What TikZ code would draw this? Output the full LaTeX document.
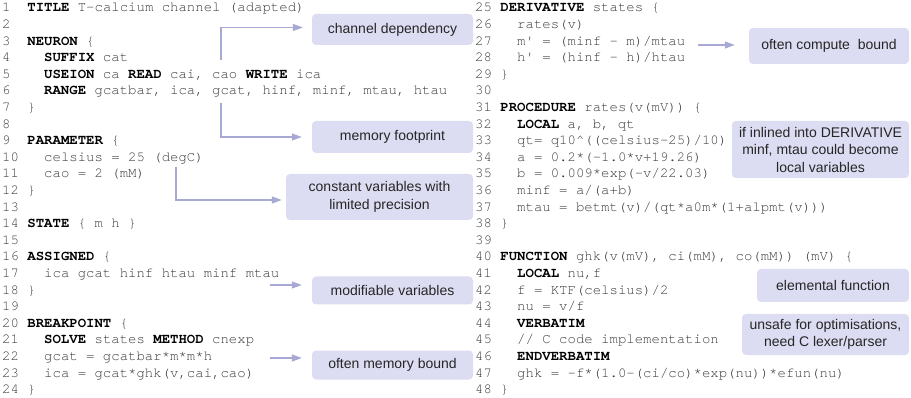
\documentclass[tikz,border=0pt]{standalone}
\usepackage{fontspec}
\setmonofont{TeX Gyre Cursor}
\setsansfont{Liberation Sans}
\usetikzlibrary{arrows.meta}
\definecolor{codegray}{HTML}{3A3A3A}
\definecolor{notefill}{HTML}{DCDCF2}
\definecolor{linkline}{HTML}{A8A8D4}
\newcommand\kw[1]{\textbf{\color{black}#1}}
\newcommand\ind{\phantom{xx}}
\newcommand\lnum[1]{\makebox[25.2pt][l]{#1}}
\tikzset{
  codeline/.style={anchor=base west, inner sep=0pt, text=codegray,
    font=\fontsize{14}{16}\selectfont\ttfamily},
  note/.style={fill=notefill, rounded corners=4pt, align=center, inner sep=0pt,
    text=black!85, font=\fontsize{14}{17.5}\selectfont\sffamily},
  link/.style={draw=linkline, line width=1.3pt, -{Triangle[length=10pt,width=7pt]}}
}
\begin{document}
\begin{tikzpicture}[x=1pt,y=-1pt]
\useasboundingbox (0,0) rectangle (911,398);
% left listing
\foreach \n/\code in {
  1/{\kw{TITLE} T-calcium channel (adapted)},
  2/{},
  3/{\kw{NEURON} \{},
  4/{\ind\kw{SUFFIX} cat},
  5/{\ind\kw{USEION} ca \kw{READ} cai, cao \kw{WRITE} ica},
  6/{\ind\kw{RANGE} gcatbar, ica, gcat, hinf, minf, mtau, htau},
  7/{\}},
  8/{},
  9/{\kw{PARAMETER} \{},
  10/{\ind celsius = 25 (degC)},
  11/{\ind cao = 2 (mM)},
  12/{\}},
  13/{},
  14/{\kw{STATE} \{ m h \}},
  15/{},
  16/{\kw{ASSIGNED} \{},
  17/{\ind ica gcat hinf htau minf mtau},
  18/{\}},
  19/{},
  20/{\kw{BREAKPOINT} \{},
  21/{\ind\kw{SOLVE} states \kw{METHOD} cnexp},
  22/{\ind gcat = gcatbar*m*m*h},
  23/{\ind ica = gcat*ghk(v,cai,cao)},
  24/{\}}}
  \node[codeline] (l\n) at (2,{12+(\n-1)*16.6}) {\lnum{\n}\code};
% right listing
\foreach \n/\code in {
  25/{\kw{DERIVATIVE} states \{},
  26/{\ind rates(v)},
  27/{\ind m\textquotesingle{} = (minf - m)/mtau},
  28/{\ind h\textquotesingle{} = (hinf - h)/htau},
  29/{\}},
  30/{},
  31/{\kw{PROCEDURE} rates(v(mV)) \{},
  32/{\ind\kw{LOCAL} a, b, qt},
  33/{\ind qt= q10\textasciicircum((celsius-25)/10)},
  34/{\ind a = 0.2*(-1.0*v+19.26)},
  35/{\ind b = 0.009*exp(-v/22.03)},
  36/{\ind minf = a/(a+b)},
  37/{\ind mtau = betmt(v)/(qt*a0m*(1+alpmt(v)))},
  38/{\}},
  39/{},
  40/{\kw{FUNCTION} ghk(v(mV), ci(mM), co(mM)) (mV) \{},
  41/{\ind\kw{LOCAL} nu,f},
  42/{\ind f = KTF(celsius)/2},
  43/{\ind nu = v/f},
  44/{\ind\kw{VERBATIM}},
  45/{\ind // C code implementation},
  46/{\ind\kw{ENDVERBATIM}},
  47/{\ind ghk = -f*(1.0-(ci/co)*exp(nu))*efun(nu)},
  48/{\}}}
  \node[codeline] (l\n) at (475,{12+(\n-25)*16.6}) {\lnum{\n}\code};

% notes
\node[note, minimum width=161pt, minimum height=31pt] (chandep) at (392.5,29.5) {channel dependency};
\node[note, minimum width=161pt, minimum height=32pt] (memfoot) at (392.5,137) {memory footprint};
\node[note, minimum width=187pt, minimum height=46pt] (constvar) at (379.5,197) {constant variables with\\limited precision};
\node[note, minimum width=161pt, minimum height=28pt] (modvar) at (392.5,290.5) {modifiable variables};
\node[note, minimum width=161pt, minimum height=29pt] (membound) at (392.5,365) {often memory bound};
\node[note, minimum width=160pt, minimum height=36pt] (compbound) at (829,46) {often compute\ \ bound};
\node[note, minimum width=177pt, minimum height=57pt] (inlined) at (820.5,149.5) {if inlined into DERIVATIVE\\minf, mtau could become\\local variables};
\node[note, minimum width=152pt, minimum height=33pt] (elemfun) at (833,285.5) {elemental function};
\node[note, minimum width=167pt, minimum height=41pt] (unsafe) at (825.5,334.5) {unsafe for optimisations,\\need C lexer/parser};

% arrows
\coordinate (s1) at (221,60);
\coordinate (s2) at (221,103);
\coordinate (s3) at (176,167);
\coordinate (s4) at (270,285);
\coordinate (s5) at (270,358);
\coordinate (s6) at (698,45);
\draw[link, shorten >=9pt] (s1) |- ([yshift=2pt]chandep.west);
\draw[link, shorten >=10pt] (s2) |- (memfoot.west);
\draw[link, shorten >=4pt] (s3) |- ([yshift=-3pt]constvar.west);
\draw[link, shorten >=10pt] (s4) -- (s4 -| modvar.west);
\draw[link, shorten >=10pt] (s5) -- (s5 -| membound.west);
\draw[link, shorten >=14pt] (s6) -- (s6 -| compbound.west);
\end{tikzpicture}
\end{document}
